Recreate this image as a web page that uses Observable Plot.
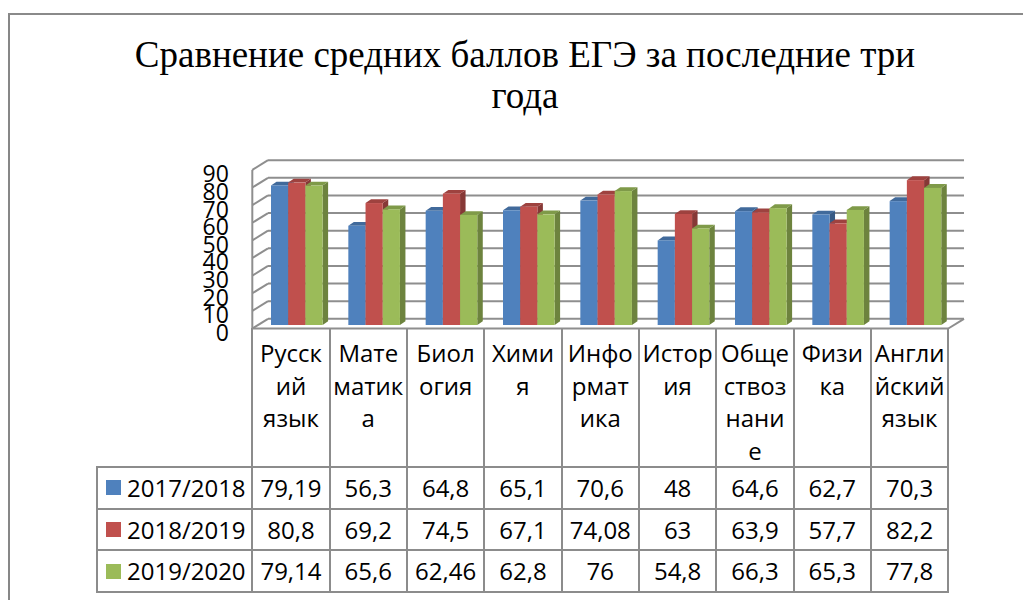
<!DOCTYPE html>
<html><head><meta charset="utf-8">
<script src="https://cdn.jsdelivr.net/npm/d3@7"></script>
<script src="https://cdn.jsdelivr.net/npm/@observablehq/plot@0.6"></script>
<style>
html,body{margin:0;padding:0;background:#fff;}
#page{position:relative;width:1023px;height:600px;overflow:hidden;background:#fff;}
#frame{position:absolute;left:8px;top:13px;width:1100px;height:700px;border-left:2px solid #878787;border-top:2px solid #8a8a8a;}
#title{position:absolute;left:0;top:34px;width:1050px;text-align:center;font-family:"Liberation Serif","Times New Roman",serif;font-size:37px;line-height:41px;color:#000;}
#chart{position:absolute;left:0;top:0;}
.tl{position:absolute;background:#8c8c8c;}
.tc{position:absolute;font-family:"Open Sans",sans-serif;font-size:24px;color:#000;text-align:center;white-space:nowrap;}
.sw{position:absolute;width:15px;height:15px;}
</style></head><body>
<div id="page">
  <div id="frame"></div>
  <div id="title"></div>
  <div id="table"></div>
  <div id="chart"></div>
</div>
<script>
// ---------- data ----------
const titleLines = ["Сравнение средних баллов ЕГЭ за последние три", "года"];
const categories = ["Русский язык","Математика","Биология","Химия","Информатика","История","Обществознание","Физика","Английский язык"];
const categoryLabels = [["Русск","ий","язык"],["Мате","матик","а"],["Биол","огия"],["Хими","я"],["Инфо","рмат","ика"],["Истор","ия"],["Обще","ствоз","нани","е"],["Физи","ка"],["Англи","йский","язык"]];
const seriesNames = ["2017/2018","2018/2019","2019/2020"];
const seriesColors = ["#4F81BD","#C0504D","#9BBB59"];
const values2017 = [79.19,56.3,64.8,65.1,70.6,48,64.6,62.7,70.3];
const values2018 = [80.8,69.2,74.5,67.1,74.08,63,63.9,57.7,82.2];
const values2019 = [79.14,65.6,62.46,62.8,76,54.8,66.3,65.3,77.8];
const yTicks = [0,10,20,30,40,50,60,70,80,90];

const seriesValues = [values2017, values2018, values2019];
const rows = seriesValues.map((vals, k) => categories.map((c, i) => ({category: c, series: seriesNames[k], value: vals[i]})));

// ---------- layout ----------
const W = 1023;
const plotLeft = 252.3, plotRight = 948.3;
const yZero = 325, yTop = 166.4;
const chartH = 340;
const frontDy = 3, backDx = 15.7, backDy = -6.7;
const capDx = 5.5, capDy = -3.8;
const barInsets = [[18.7, 41.43], [35.9, 24.23], [53.1, 7.03]];
const gridColor = "#8e8e8e";

document.getElementById("title").innerHTML = titleLines.join("<br>");

const chart = Plot.plot({
  width: W, height: chartH,
  marginLeft: plotLeft, marginRight: W - plotRight,
  marginTop: yTop, marginBottom: chartH - yZero,
  style: {background: "transparent", overflow: "visible"},
  x: {type: "band", domain: categories, padding: 0, round: false, axis: null},
  y: {domain: [0, 90], nice: false, label: null},
  marks: [
    Plot.ruleY(yTicks, {y: d => d, dx: backDx, dy: backDy, stroke: gridColor, strokeWidth: 2}),
    Plot.ruleY(yTicks, {y: d => d, stroke: gridColor, strokeWidth: 2, ariaDescription: "left-wall"}),
    Plot.ruleY([0], {y: d => d, dy: frontDy, stroke: gridColor, strokeWidth: 2}),
    Plot.ruleY([0], {y: d => d, stroke: gridColor, strokeWidth: 2, ariaDescription: "floor-right"}),
    ...rows.map((data, k) => Plot.barY(data, {
      x: "category", y1: 0, y2: "value", fill: seriesColors[k],
      insetLeft: barInsets[k][0], insetRight: barInsets[k][1],
      ariaDescription: "bars-" + k
    })),
    Plot.axisY({ticks: yTicks, label: null, tickSize: 0, tickPadding: 24, dy: 8, fontSize: 23,
      fontFamily: "Open Sans, sans-serif", fill: "#000"})
  ]
});
document.getElementById("chart").appendChild(chart);

// ---------- 3D post-processing of the rendered marks ----------
const root = d3.select(chart);
const grp = (name) => root.select(`g[aria-description="${name}"]`);
let leftX = plotLeft;
const wallYs = [];
grp("left-wall").selectAll("line").each(function() {
  const l = d3.select(this);
  const x1 = +l.attr("x1"), y = +l.attr("y1");
  leftX = x1;
  wallYs.push(y + frontDy);
  l.attr("y1", y + frontDy).attr("x2", x1 + backDx).attr("y2", y + backDy);
});
if (wallYs.length) {
  grp("left-wall").append("line").attr("x1", leftX).attr("x2", leftX)
    .attr("y1", d3.min(wallYs)).attr("y2", d3.max(wallYs))
    .attr("stroke", gridColor).attr("stroke-width", 2);
}
grp("floor-right").selectAll("line").each(function() {
  const l = d3.select(this);
  const x2 = +l.attr("x2"), y = +l.attr("y1");
  l.attr("x1", x2).attr("y1", y + frontDy).attr("x2", x2 + backDx).attr("y2", y + backDy);
});
seriesColors.forEach((col, k) => {
  const g = grp("bars-" + k);
  const base = d3.color(col);
  const sideCol = base.darker(1.0).formatHex();
  const capCol = base.darker(0.55).formatHex();
  g.selectAll("rect").each(function() {
    const r = d3.select(this);
    const x = +r.attr("x"), y = +r.attr("y"), w = +r.attr("width"), h = +r.attr("height");
    const node = this;
    g.insert("polygon", () => node)
      .attr("points", `${x+w},${y} ${x+w+capDx},${y+capDy} ${x+w+capDx},${y+h+capDy} ${x+w},${y+h}`)
      .attr("fill", sideCol);
    g.insert("polygon", () => node)
      .attr("points", `${x},${y} ${x+capDx},${y+capDy} ${x+w+capDx},${y+capDy} ${x+w},${y}`)
      .attr("fill", capCol);
  });
});
root.selectAll('g[aria-label^="y-axis"] text')
  .style("font-size", "23px").style("font-family", "Open Sans, sans-serif").attr("fill", "#000");

// ---------- data table below the chart ----------
const xs = chart.scale("x");
const n = categories.length;
const bw = (xs.range[1] - xs.range[0]) / n;
const colStart = (i) => (xs.apply ? xs.apply(categories[i]) : xs.range[0] + i * bw);
const edges = d3.range(n + 1).map(i => i < n ? colStart(i) : colStart(n - 1) + bw);
const headTop = yZero + frontDy, headBottom = 467, tableBottom = 592, legendLeft = 97;
const rowH = (tableBottom - headBottom) / seriesNames.length;
const tbl = document.getElementById("table");
function line(x, y, w, h) {
  const d = document.createElement("div");
  d.className = "tl";
  Object.assign(d.style, {left: x + "px", top: y + "px", width: w + "px", height: h + "px"});
  tbl.appendChild(d);
}
edges.forEach(x => line(x - 1, headTop, 2, tableBottom - headTop + 1));
line(legendLeft - 1, headBottom - 1, 2, tableBottom - headBottom + 2);
d3.range(seriesNames.length + 1).forEach(r => line(legendLeft - 1, headBottom + r * rowH - 1, edges[n] - legendLeft + 2, 2));
categoryLabels.forEach((lines, i) => {
  const d = document.createElement("div");
  d.className = "tc";
  Object.assign(d.style, {left: edges[i] + "px", width: bw + "px", top: (headTop + 9.4) + "px", lineHeight: "32.5px"});
  d.innerHTML = lines.join("<br>");
  tbl.appendChild(d);
});
seriesNames.forEach((s, k) => {
  const top = headBottom + k * rowH;
  const sw = document.createElement("div");
  sw.className = "sw";
  Object.assign(sw.style, {left: "106px", top: (top + (rowH - 15) / 2) + "px", background: seriesColors[k]});
  tbl.appendChild(sw);
  const lab = document.createElement("div");
  lab.className = "tc";
  Object.assign(lab.style, {left: "127px", top: top + "px", height: rowH + "px", lineHeight: rowH + "px", textAlign: "left"});
  lab.textContent = s;
  tbl.appendChild(lab);
  seriesValues[k].forEach((v, i) => {
    const c = document.createElement("div");
    c.className = "tc";
    Object.assign(c.style, {left: edges[i] + "px", width: bw + "px", top: top + "px", height: rowH + "px", lineHeight: rowH + "px"});
    c.textContent = String(v).replace(".", ",");
    tbl.appendChild(c);
  });
});
</script>
</body></html>
